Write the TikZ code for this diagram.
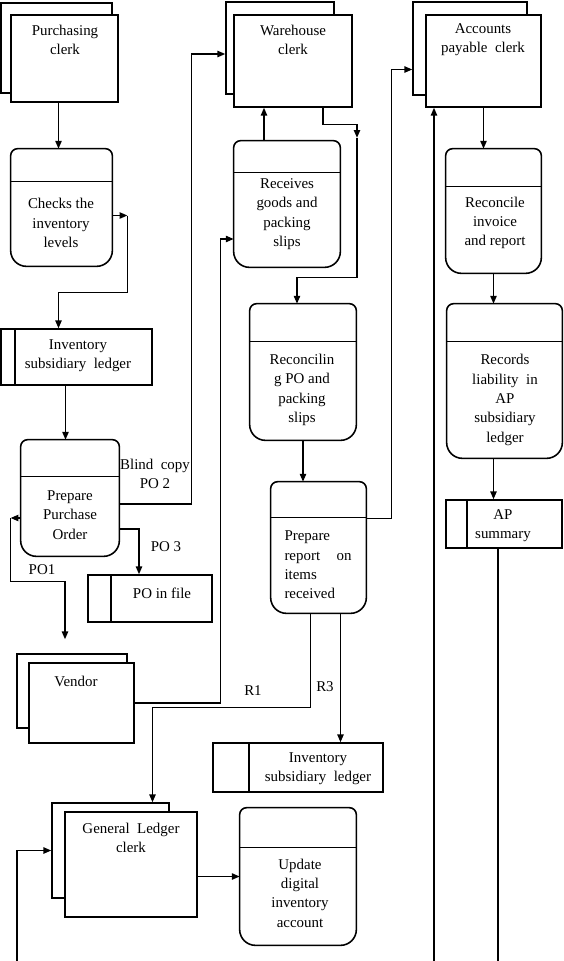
\documentclass[tikz,border=0pt]{standalone}
\usepackage{fontspec}
\setmainfont{Liberation Serif}
\usetikzlibrary{calc,fit,arrows.meta}
\tikzset{
	ln/.style={line width=0.75pt},
	arr/.style={ln, -{Triangle[length=4.4pt,width=3.6pt]}},
	shp/.style={line width=0.9pt},
	box/.style={draw, shp, fill=white, inner sep=0pt},
	area/.style={inner sep=0pt},
	txt/.style={font=\fontsize{8.5}{11}\selectfont, align=center, inner sep=0pt},
}
\def\procbox(#1)(#2){\draw[shp] (#1.north) [rounded corners=4pt] -| (#1.east) [rounded corners=9pt] |- (#1.south) -| (#1.west) [rounded corners=4pt] |- (#1.north);
	\draw[shp] ($(#1.north west)+(0,#2)$) -- ($(#1.north east)+(0,#2)$);}
\def\storebox(#1)(#2){\draw[shp] ($(#1.north west)+(#2,0)$) -- ($(#1.south west)+(#2,0)$);}

\begin{document}
\begin{tikzpicture}[x=0.02cm, y=-0.02cm]
		%%%%% START %%%%%
		\useasboundingbox (0,0) rectangle (564,961);
		
		% clerks
		\node[box, fit={(1,3) (112,93)}] (pcb) {};
		\node[box, fit={(11,15) (118,102)}] (pc) {};
		\node[txt] (pct) at (65,40) {Purchasing\\clerk};
		
		\node[box, fit={(226,2) (334,94)}] (whb) {};
		\node[box, fit={(234,15) (352,107)}] (wh) {};
		\node[txt] (wht) at (293,40) {Warehouse\\clerk};
		
		\node[box, fit={(413,2) (527,95)}] (apb) {};
		\node[box, fit={(426,15) (541,107)}] (ap) {};
		\node[txt] (apt) at (483,40) {Accounts\\payable\ \ clerk};
		
		\node[box, fit={(17,654) (127,728)}] (venb) {};
		\node[box, fit={(29,663) (134,743)}] (ven) {};
		\node[txt] (vent) at (76,681) {Vendor};
		
		\node[box, fit={(52,803) (169,898)}] (glb) {};
		\node[box, fit={(65,812) (197,917)}] (gl) {};
		\node[txt] (glt) at (131,838) {General\ \ Ledger\\clerk};
		
		% processes
		\node[area, fit={(11,149) (112,266)}] (chk) {};
		\procbox(chk)(33);
		\node[txt] (chkt) at (61,223) {Checks the\\inventory\\levels};
		
		\node[area, fit={(21,440) (119,556)}] (ppo) {};
		\procbox(ppo)(37);
		\node[txt] (ppot) at (70,515) {Prepare\\Purchase\\Order};
		
		\node[area, fit={(234,141) (340,267)}] (rcv) {};
		\procbox(rcv)(32);
		\node[txt] (rcvt) at (287,214) {Receives\\goods and\\packing\\slips};
		
		\node[area, fit={(250,304) (356,440)}] (rec) {};
		\procbox(rec)(38);
		\node[txt] (rect) at (302,390) {Reconcilin\\g PO and\\packing\\slips};
		
		\node[area, fit={(271,482) (366,613)}] (rep) {};
		\procbox(rep)(36);
		\node[txt, text width=1.34cm, align=left] (rept) at (318,565) {Prepare\\report\hfill on\\items\\received};
		
		\node[area, fit={(240,808) (356,945)}] (upd) {};
		\procbox(upd)(40);
		\node[txt] (updt) at (300,893) {Update\\digital\\inventory\\account};
		
		\node[area, fit={(446,149) (541,273)}] (rci) {};
		\procbox(rci)(38);
		\node[txt] (rcit) at (495,223) {Reconcile\\invoice\\and report};
		
		\node[area, fit={(447,304) (562,458)}] (rla) {};
		\procbox(rla)(38);
		\node[txt] (rlat) at (505,400) {Records\\liability\ \ in\\AP\\subsidiary\\ledger};
		
		% stores
		\node[box, fit={(1,329) (152,385)}] (inv1) {};
		\storebox(inv1)(15);
		\node[txt] (inv1t) at (78,356) {Inventory\\subsidiary\ \ ledger};
		
		\node[box, fit={(88,575) (212,622)}] (pof) {};
		\storebox(pof)(24);
		\node[txt] (poft) at (162,593) {PO\ in\ file};
		
		\node[box, fit={(213,743) (383,792)}] (inv2) {};
		\storebox(inv2)(37);
		\node[txt] (inv2t) at (318,769) {Inventory\\subsidiary\ \ ledger};
		
		\node[box, fit={(446,500) (562,548)}] (aps) {};
		\storebox(aps)(22);
		\node[txt] (apst) at (503,526) {AP\\summary};
		
		% flows
		\draw[arr] ($(pc.south)+(-6,0)$) coordinate (a1) -- (a1 |- chk.north);
		\draw[arr] ($(chk.east)+(0,8)$) -- ++(15,0) coordinate (k1);
		\draw[arr] (k1) |- ($(inv1.north)+(-18,-36)$) coordinate (k2) -- (k2 |- inv1.north);
		\draw[arr] ($(inv1.south)+(-11,0)$) coordinate (k3) -- (k3 |- ppo.north);
		
		\draw[arr] ($(ppo.east)+(0,6)$) -| ($(whb.west)+(-34,6)$) coordinate (k4) -- (k4 -| whb.west);
		\node[txt] (lbc) at (155,474) {Blind\ \ copy\\PO 2};
		\draw[arr] ($(ppo.east)+(0,31)$) -| ($(pof.north)+(-11,0)$);
		\node[txt] (lpo3) at (166,547) {PO 3};
		\draw[arr] ($(ppo.west)+(0,20)$) -- ++(-10,0) coordinate (k6);
		\draw[arr] (k6) |- ($(venb.north)+(-7,-72)$) coordinate (k7) -- ($(venb.north)+(-7,-14)$);
		\node[txt] (lpo1) at (42,570) {PO1};
		
		\draw[arr] (ven.east) -| ($(rcv.west)+(-13,35)$) coordinate (k8) -- (k8 -| rcv.west);
		\node[txt] (lr1) at (253,691) {R1};
		\draw[arr] ($(rcv.north)+(-23,0)$) coordinate (k9) -- (k9 |- wh.south);
		\draw[arr] ($(wh.south)+(30,0)$) |- ++(34,17) -- ++(0,13) coordinate (k10);
		\draw[arr] (k10) |- ($(rec.north)+(-6,-26)$) coordinate (k11) -- (k11 |- rec.north);
		\draw[arr] (rec.south) -- (rec.south |- rep.north);
		
		\draw[arr] ($(rep.east)+(0,-29)$) -| ($(apb.west)+(-21,21)$) coordinate (k12) -- (k12 -| apb.west);
		\draw[arr] ($(rep.south)+(-8,0)$) |- ($(glb.north)+(42,-95)$) coordinate (k13) -- (k13 |- glb.north);
		\draw[arr] ($(rep.south)+(22,0)$) coordinate (k14) -- (k14 |- inv2.north);
		\node[txt] (lr3) at (325,687) {R3};
		
		\coordinate (glin) at (17,961);
		\draw[arr] (glin) |- (glb.west);
		\draw[arr] (gl.east |- upd.west) -- (upd.west);
		
		\draw[arr] (ap.south) -- (ap.south |- rci.north);
		\coordinate (apin) at (434,961);
		\draw[arr] (apin) -- (apin |- ap.south);
		\draw[arr] (rci.south) -- (rci.south |- rla.north);
		\draw[arr] ($(rla.south)+(-11,0)$) coordinate (k15) -- (k15 |- aps.north);
		\coordinate (apout) at (0,961);
		\draw[ln] ($(aps.south)+(-6,0)$) coordinate (k16) -- (k16 |- apout);
		
		%%%%% END %%%%%
\end{tikzpicture}
\end{document}
